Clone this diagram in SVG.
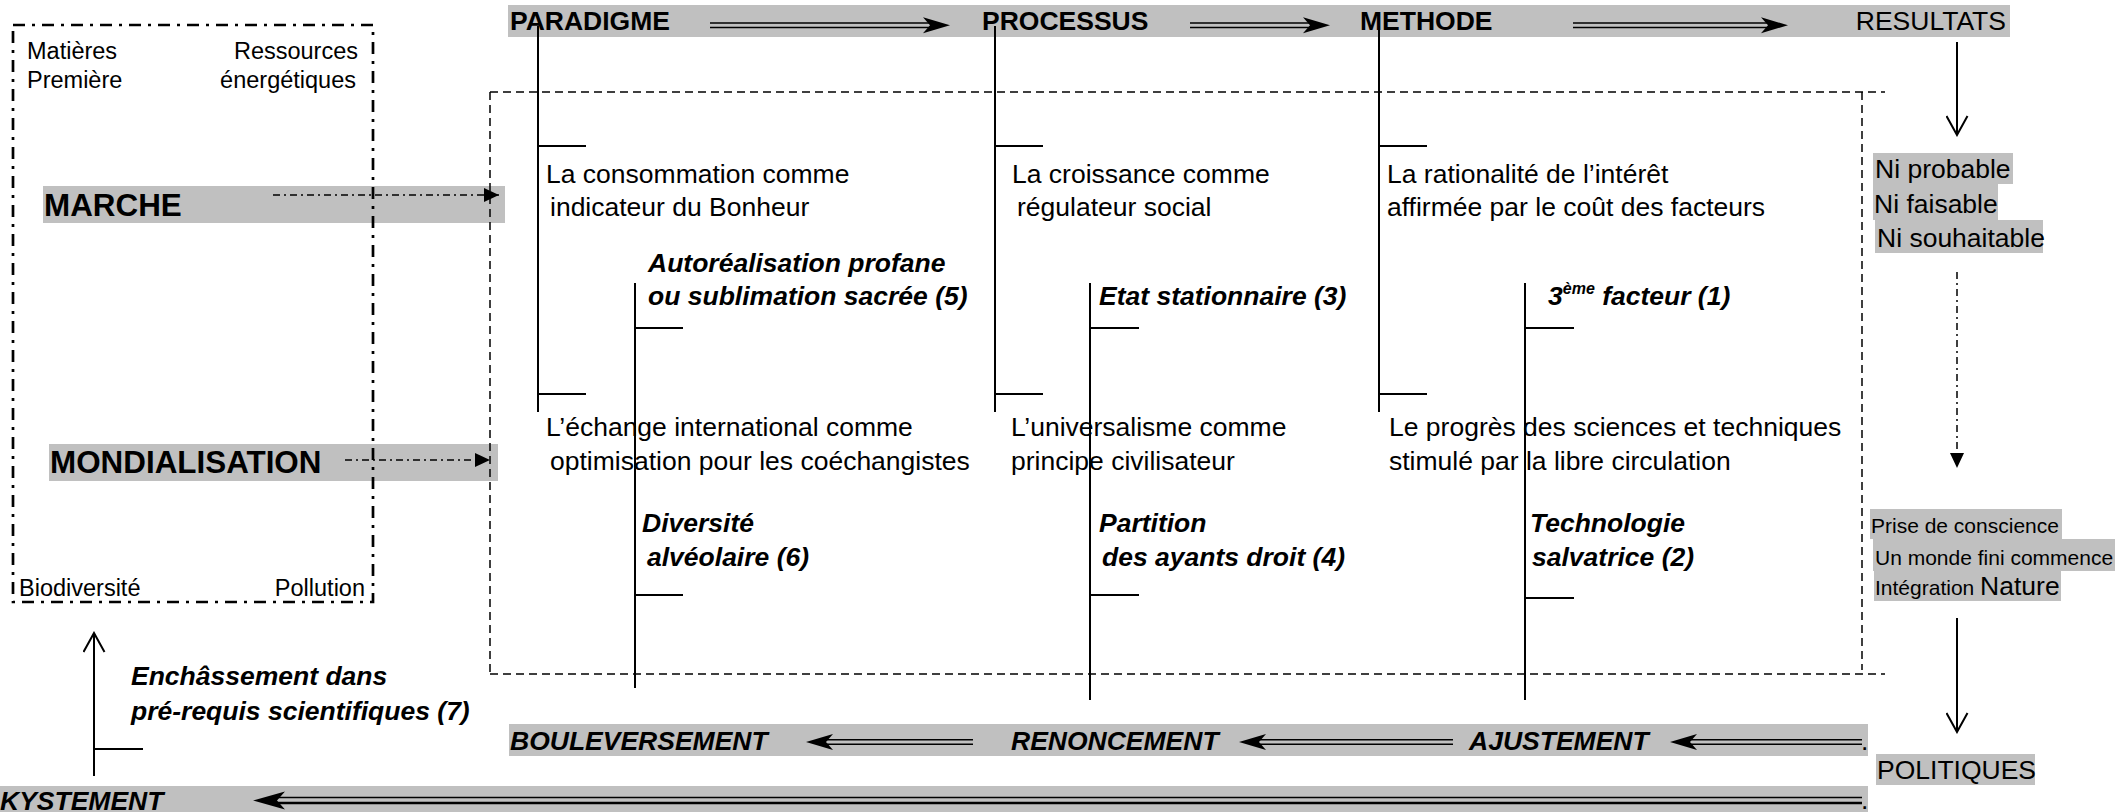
<svg xmlns="http://www.w3.org/2000/svg" xmlns:xlink="http://www.w3.org/1999/xlink" width="2123" height="812" viewBox="0 0 2123 812">
<style>
text{font-family:"Liberation Sans",Arial,sans-serif;font-size:26.5px;fill:#000}
.b{font-weight:bold}
.bi{font-weight:bold;font-style:italic}
.s{font-size:23.5px}
.xs{font-size:21px}
.band{fill:#c0c0c0}
.ln{stroke:#000;stroke-width:2;fill:none}
.dd{stroke:#000;stroke-width:1.5;stroke-dasharray:7 4 2 4;fill:none}
.frame{stroke:#000;stroke-width:2.7;stroke-dasharray:12 7 3 7;fill:none}
.dash{stroke:#000;stroke-width:1.5;stroke-dasharray:8 5;fill:none}
.dbl{stroke:#000;stroke-width:1.7;fill:none}
.dblk{stroke:#000;stroke-width:2.3;fill:none}
</style>
<defs>
<marker id="open" markerUnits="userSpaceOnUse" viewBox="0 0 22 23" markerWidth="22" markerHeight="23" refX="20" refY="11.5" orient="auto">
<path d="M1,1 L20,11.5 L1,22" fill="none" stroke="#000" stroke-width="2"/>
</marker>
<marker id="tri" markerUnits="userSpaceOnUse" viewBox="0 0 16 14" markerWidth="16" markerHeight="14" refX="15" refY="7" orient="auto">
<path d="M0,0 L15,7 L0,14 Z" fill="#000"/>
</marker>
<path id="dh" d="M0,0 L-27,-8 L-20,0 L-27,8 Z" fill="#000"/>
<path id="dh2" d="M0,0 L-32,-9 L-24,0 L-32,9 Z" fill="#000"/>
</defs>

<g id="bands">
<rect class="band" x="508" y="5" width="1502" height="32"/>
<rect class="band" x="43" y="186" width="462" height="37"/>
<rect class="band" x="49" y="444" width="449" height="37"/>
<rect class="band" x="509" y="724" width="1359" height="32"/>
<rect class="band" x="0" y="786" width="1868" height="26"/>
</g>

<g id="frame-environnement">
<rect class="frame" x="13" y="25" width="360" height="577"/>
<text class="s" x="27" y="59">Matières</text>
<text class="s" x="27" y="88">Première</text>
<text class="s" x="358" y="59" text-anchor="end">Ressources</text>
<text class="s" x="356" y="88" text-anchor="end">énergétiques</text>
<text class="s" x="19" y="596">Biodiversité</text>
<text class="s" x="365" y="596" text-anchor="end">Pollution</text>
</g>
<g id="frame-systeme">
<line class="dash" x1="490" y1="92" x2="1885" y2="92"/>
<line class="dash" x1="490" y1="674" x2="1885" y2="674"/>
<line class="dash" x1="490" y1="92" x2="490" y2="674"/>
<line class="dash" x1="1862" y1="92" x2="1862" y2="670"/>
</g>

<g id="marche"><text class="b" x="44" y="216" style="font-size:31.4px">MARCHE</text></g>
<g id="mondialisation"><text class="b" x="50" y="473" style="font-size:31.4px">MONDIALISATION</text></g>

<g id="paradigme"><text class="b" x="510" y="30">PARADIGME</text></g>
<g id="processus"><text class="b" x="982" y="30">PROCESSUS</text></g>
<g id="methode"><text class="b" x="1360" y="30">METHODE</text></g>
<g id="resultats"><text x="2006" y="30" text-anchor="end">RESULTATS</text></g>

<g id="consommation"><text x="546" y="183">La consommation comme</text><text x="550" y="216">indicateur du Bonheur</text></g>
<g id="croissance"><text x="1012" y="183">La croissance comme</text><text x="1017" y="216">régulateur social</text></g>
<g id="rationalite"><text x="1387" y="183">La rationalité de l’intérêt</text><text x="1387" y="216">affirmée par le coût des facteurs</text></g>

<g id="autorealisation"><text class="bi" x="648" y="272">Autoréalisation profane</text><text class="bi" x="648" y="305">ou sublimation sacrée (5)</text></g>
<g id="etat"><text class="bi" x="1099" y="305">Etat stationnaire (3)</text></g>
<g id="facteur3"><text class="bi" x="1548" y="305">3<tspan dy="-11" style="font-size:16px">ème</tspan><tspan dy="11"> facteur (1)</tspan></text></g>

<g id="echange"><text x="546" y="436">L’échange international comme</text><text x="550" y="470">optimisation pour les coéchangistes</text></g>
<g id="universalisme"><text x="1011" y="436">L’universalisme comme</text><text x="1011" y="470">principe civilisateur</text></g>
<g id="progres"><text x="1389" y="436">Le progrès des sciences et techniques</text><text x="1389" y="470">stimulé par la libre circulation</text></g>

<g id="diversite"><text class="bi" x="642" y="532">Diversité</text><text class="bi" x="647" y="566">alvéolaire (6)</text></g>
<g id="partition"><text class="bi" x="1099" y="532">Partition</text><text class="bi" x="1102" y="566">des ayants droit (4)</text></g>
<g id="technologie"><text class="bi" x="1530" y="532">Technologie</text><text class="bi" x="1532" y="566">salvatrice (2)</text></g>

<g id="ni">
<rect class="band" x="1873" y="153" width="140" height="31"/>
<rect class="band" x="1873" y="184" width="125" height="36"/>
<rect class="band" x="1875" y="220" width="168" height="33"/>
<text x="1875" y="178">Ni probable</text>
<text x="1874" y="213">Ni faisable</text>
<text x="1877" y="247">Ni souhaitable</text>
</g>
<g id="prise">
<rect class="band" x="1870" y="509" width="192" height="30"/>
<rect class="band" x="1873" y="539" width="242" height="32"/>
<rect class="band" x="1874" y="571" width="187" height="30"/>
<text class="xs" x="1871" y="533">Prise de conscience</text>
<text class="xs" x="1875" y="565">Un monde fini commence</text>
<text class="xs" x="1875" y="595">Intégration <tspan style="font-size:26.5px">Nature</tspan></text>
</g>
<g id="politiques">
<rect class="band" x="1876" y="754" width="159" height="31"/>
<text x="1877" y="779">POLITIQUES</text>
</g>

<g id="enchassement"><text class="bi" x="131" y="685">Enchâssement dans</text><text class="bi" x="131" y="720">pré-requis scientifiques (7)</text></g>

<g id="bouleversement"><text class="bi" x="510" y="750">BOULEVERSEMENT</text></g>
<g id="renoncement"><text class="bi" x="1011" y="750">RENONCEMENT</text></g>
<g id="ajustement"><text class="bi" x="1469" y="750">AJUSTEMENT</text><text x="1861" y="750">.</text></g>
<g id="kystement"><text class="bi" x="0" y="810">KYSTEMENT</text><text x="1861" y="809">.</text></g>

<g id="connectors">
<path class="ln" d="M538,26 V412 M538,146 H586 M538,394 H586"/>
<path class="ln" d="M995,26 V412 M995,146 H1043 M995,394 H1043"/>
<path class="ln" d="M1379,26 V412 M1379,146 H1427 M1379,394 H1427"/>
<path class="ln" d="M635,283 V688 M635,328 H683 M635,595 H683"/>
<path class="ln" d="M1090,283 V700 M1090,328 H1139 M1090,595 H1139"/>
<path class="ln" d="M1525,283 V700 M1525,328 H1574 M1525,598 H1574"/>
<path class="ln" d="M94,776 V633" marker-end="url(#open)"/>
<path class="ln" d="M94,749 H143"/>
<path class="dbl" d="M710,23 H932 M710,27.5 H932"/><use xlink:href="#dh" transform="translate(950,25.25)"/>
<path class="dbl" d="M1190,23 H1312 M1190,27.5 H1312"/><use xlink:href="#dh" transform="translate(1330,25.25)"/>
<path class="dbl" d="M1573,23 H1770 M1573,27.5 H1770"/><use xlink:href="#dh" transform="translate(1788,25.25)"/>
<path class="dbl" d="M973,739.75 H824 M973,744.25 H824"/><use xlink:href="#dh" transform="translate(806,742) scale(-1,1)"/>
<path class="dbl" d="M1453,739.75 H1257 M1453,744.25 H1257"/><use xlink:href="#dh" transform="translate(1239,742) scale(-1,1)"/>
<path class="dbl" d="M1862,739.75 H1688 M1862,744.25 H1688"/><use xlink:href="#dh" transform="translate(1670,742) scale(-1,1)"/>
<path class="dbl" d="M1862,797.5 H275"/><path class="dblk" d="M1862,803 H275"/><use xlink:href="#dh2" transform="translate(253,800.5) scale(-1,1)"/>
<path class="dd" d="M273,195 H499" marker-end="url(#tri)"/>
<path class="dd" d="M345,460 H490" marker-end="url(#tri)"/>
<path class="dd" d="M1957,272 V468" marker-end="url(#tri)"/>
<path class="ln" d="M1957,42 V135" marker-end="url(#open)"/>
<path class="ln" d="M1957,618 V732" marker-end="url(#open)"/>
</g>
</svg>
